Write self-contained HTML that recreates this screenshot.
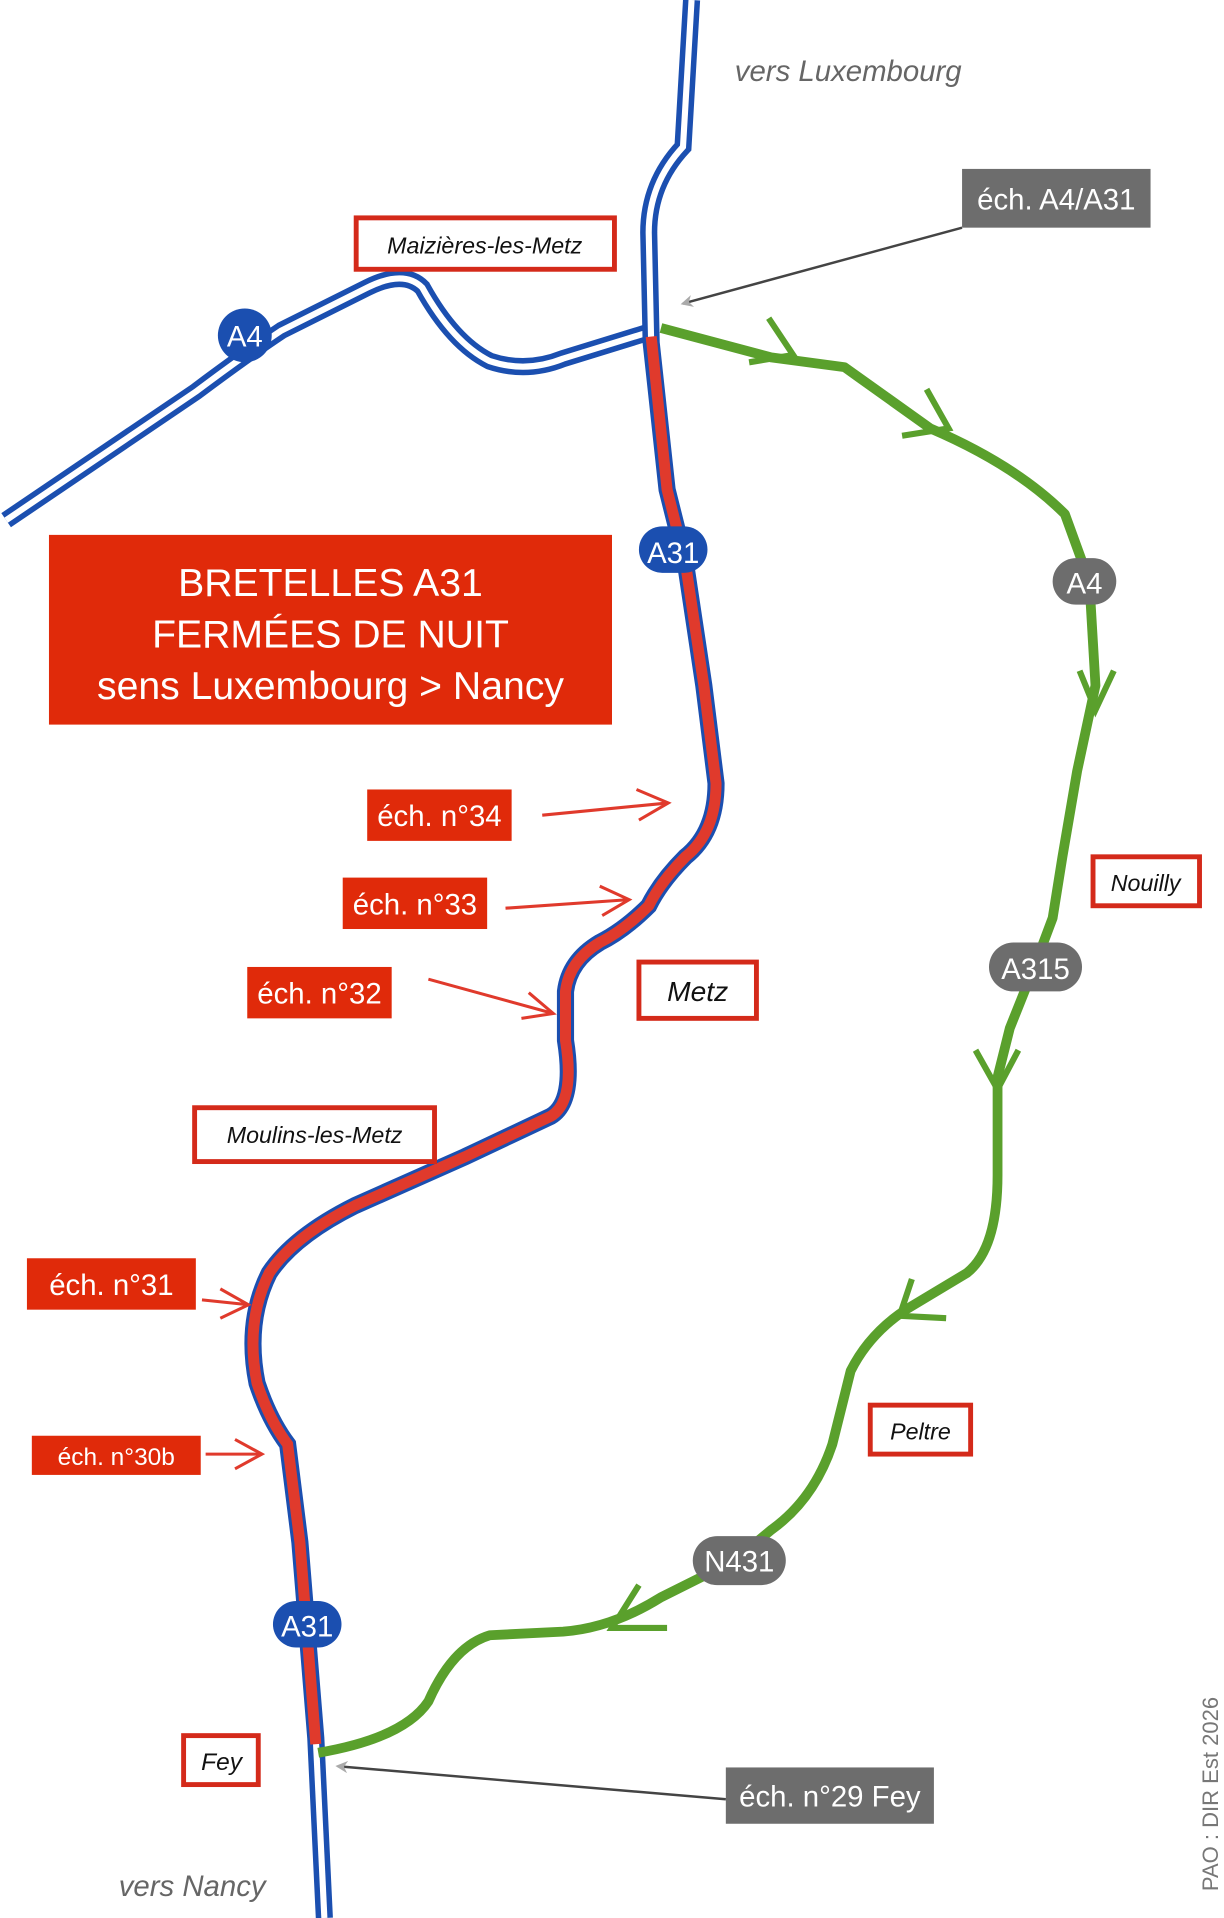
<!DOCTYPE html>
<html><head><meta charset="utf-8"><style>
html,body{margin:0;padding:0;background:#fff;}
svg{display:block}
text{font-family:"Liberation Sans",sans-serif;}
</style></head><body>
<svg width="1224" height="1918" viewBox="0 0 1000 1567" xmlns="http://www.w3.org/2000/svg">
<defs>
<marker id="ag" markerWidth="10" markerHeight="10" refX="8" refY="5" orient="auto" markerUnits="userSpaceOnUse"><path d="M0,0 L10,5 L0,10 L3,5 Z" fill="#aaa"/></marker>
</defs>
<!-- A4 double line -->
<path id="a4" d="M5,425 L160,320 Q200,290 230,270 L300,235 Q330,220 345,235 Q370,280 400,295 Q430,305 460,293 L528,272" fill="none" stroke="#1b4fb0" stroke-width="14"/>
<path d="M5,425 L160,320 Q200,290 230,270 L300,235 Q330,220 345,235 Q370,280 400,295 Q430,305 460,293 L528,272" fill="none" stroke="#fff" stroke-width="5"/>
<!-- A31 full -->
<path d="M565,0 L558,120 Q530,150 530,190 L532,280 L545,400 L560,460 L575,560 L585,640 Q585,680 560,700 Q540,720 530,740 Q510,760 490,770 Q465,785 462,810 L462,850 Q470,900 450,912 L380,945 L290,985 Q240,1010 220,1040 Q200,1080 210,1130 Q220,1160 235,1180 L245,1260 L258,1420 L265,1567" fill="none" stroke="#1b4fb0" stroke-width="14"/>
<path d="M565,0 L558,120 Q530,150 530,190 L532,280" fill="none" stroke="#fff" stroke-width="5"/>
<path d="M258,1420 L265,1567" fill="none" stroke="#fff" stroke-width="5"/>
<path d="M532,275 L545,400 L560,460 L575,560 L585,640 Q585,680 560,700 Q540,720 530,740 Q510,760 490,770 Q465,785 462,810 L462,850 Q470,900 450,912 L380,945 L290,985 Q240,1010 220,1040 Q200,1080 210,1130 Q220,1160 235,1180 L245,1260 L258,1425" fill="none" stroke="#e03a2c" stroke-width="9"/>
<!-- green route -->
<path d="M540,268 L630,292 L690,300 L760,350 Q830,380 870,420 L890,475 L895,560 L880,630 L868,700 L860,750 L845,790 L825,840 L815,880 L815,960 Q815,1020 790,1040 L740,1070 Q710,1090 695,1120 L680,1180 Q665,1225 630,1250 L600,1275 L540,1305 Q500,1330 460,1333 L400,1336 Q370,1345 350,1390 Q330,1420 260,1432" fill="none" stroke="#5aa02c" stroke-width="8" stroke-linejoin="round"/>
<!-- chevrons -->
<g fill="none" stroke="#5aa02c" stroke-width="5">
<path d="M628,260 L648,290 L612,296"/>
<path d="M757,318 L775,350 L737,356"/>
<path d="M882,548 L895,580 L910,548"/>
<path d="M797,858 L815,890 L832,858"/>
<path d="M745,1045 L735,1075 L773,1077"/>
<path d="M522,1295 L500,1330 L545,1330"/>
</g>
<!-- route badges -->
<rect x="522" y="430" width="56" height="38" rx="19" fill="#1b4fb0"/><text x="550" y="460" font-size="24" fill="#fff" text-anchor="middle">A31</text>
<rect x="223" y="1308" width="56" height="38" rx="19" fill="#1b4fb0"/><text x="251" y="1337" font-size="24" fill="#fff" text-anchor="middle">A31</text>
<circle cx="200" cy="274" r="22" fill="#1b4fb0"/><text x="200" y="283" font-size="24" fill="#fff" text-anchor="middle">A4</text>
<rect x="860" y="456" width="52" height="38" rx="19" fill="#6d6d6d"/><text x="886" y="485" font-size="24" fill="#fff" text-anchor="middle">A4</text>
<rect x="808" y="770" width="76" height="40" rx="20" fill="#6d6d6d"/><text x="846" y="800" font-size="24" fill="#fff" text-anchor="middle">A315</text>
<rect x="566" y="1255" width="76" height="40" rx="20" fill="#6d6d6d"/><text x="604" y="1284" font-size="24" fill="#fff" text-anchor="middle">N431</text>
<!-- grey labels & arrows -->
<rect x="786" y="138" width="154" height="48" fill="#6d6d6d"/><text x="863" y="171" font-size="24" fill="#fff" text-anchor="middle">éch. A4/A31</text>
<line x1="786" y1="186" x2="558" y2="248" stroke="#444" stroke-width="2" marker-end="url(#ag)"/>
<rect x="593" y="1444" width="170" height="46" fill="#6d6d6d"/><text x="678" y="1476" font-size="24" fill="#fff" text-anchor="middle">éch. n°29 Fey</text>
<line x1="593" y1="1470" x2="276" y2="1443" stroke="#444" stroke-width="2" marker-end="url(#ag)"/>
<!-- title box -->
<rect x="40" y="437" width="460" height="155" fill="#e02a0a"/>
<text x="270" y="487" font-size="32" fill="#fff" text-anchor="middle">BRETELLES A31</text>
<text x="270" y="529" font-size="32" fill="#fff" text-anchor="middle">FERMÉES DE NUIT</text>
<text x="270" y="571" font-size="32" fill="#fff" text-anchor="middle">sens Luxembourg &gt; Nancy</text>
<!-- town labels -->
<g font-style="italic" fill="#111" text-anchor="middle">
<rect x="291" y="178" width="211" height="42" fill="#fff" stroke="#d42a1a" stroke-width="4"/><text x="396" y="207" font-size="19">Maizières-les-Metz</text>
<rect x="893" y="700" width="87" height="40" fill="#fff" stroke="#d42a1a" stroke-width="4"/><text x="936" y="728" font-size="19">Nouilly</text>
<rect x="522" y="786" width="96" height="46" fill="#fff" stroke="#d42a1a" stroke-width="4"/><text x="570" y="818" font-size="23">Metz</text>
<rect x="159" y="905" width="196" height="44" fill="#fff" stroke="#d42a1a" stroke-width="4"/><text x="257" y="934" font-size="19">Moulins-les-Metz</text>
<rect x="711" y="1148" width="82" height="40" fill="#fff" stroke="#d42a1a" stroke-width="4"/><text x="752" y="1176" font-size="19">Peltre</text>
<rect x="150" y="1418" width="61" height="40" fill="#fff" stroke="#d42a1a" stroke-width="4"/><text x="181" y="1446" font-size="20">Fey</text>
</g>
<text x="693" y="66" font-size="24" font-style="italic" fill="#666" text-anchor="middle">vers Luxembourg</text>
<text x="157" y="1549" font-size="24" font-style="italic" fill="#666" text-anchor="middle">vers Nancy</text>
<!-- red exit labels -->
<g fill="#fff" text-anchor="middle" font-size="24">
<rect x="300" y="645" width="118" height="42" fill="#e02a0a"/><text x="359" y="675">éch. n°34</text>
<rect x="280" y="717" width="118" height="42" fill="#e02a0a"/><text x="339" y="747">éch. n°33</text>
<rect x="202" y="790" width="118" height="42" fill="#e02a0a"/><text x="261" y="820">éch. n°32</text>
<rect x="22" y="1028" width="138" height="42" fill="#e02a0a"/><text x="91" y="1058">éch. n°31</text>
<rect x="26" y="1173" width="138" height="32" fill="#e02a0a"/><text x="95" y="1197" font-size="20">éch. n°30b</text>
</g>
<g stroke="#e03a2c" stroke-width="2.5" fill="none">
<line x1="443" y1="666" x2="546" y2="656"/><path d="M520,645 L546,656 L522,670"/>
<line x1="413" y1="742" x2="514" y2="735"/><path d="M490,724 L514,735 L492,748"/>
<line x1="350" y1="800" x2="452" y2="828"/><path d="M432,811 L452,828 L426,832"/>
<line x1="165" y1="1062" x2="203" y2="1066"/><path d="M180,1053 L203,1066 L180,1077"/>
<line x1="168" y1="1188" x2="214" y2="1188"/><path d="M192,1176 L214,1188 L192,1200"/>
</g>
<text transform="translate(995,1545) rotate(-90)" font-size="18" fill="#777">PAO : DIR Est 2026</text>
</svg>
</body></html>
